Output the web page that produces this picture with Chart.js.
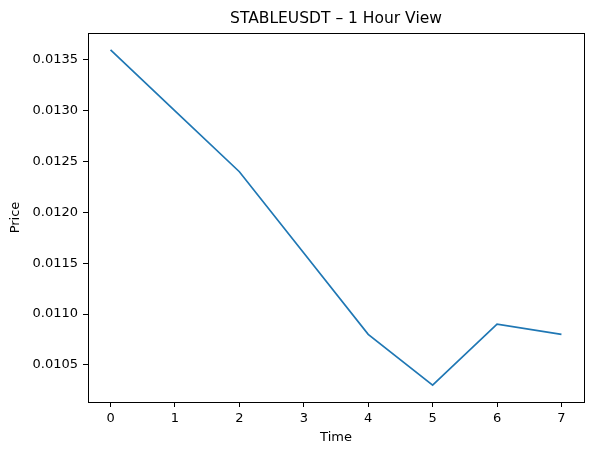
<!DOCTYPE html>
<html>
<head>
<meta charset="utf-8">
<script src="https://cdn.jsdelivr.net/npm/chart.js@4/dist/chart.umd.min.js"></script>
<style>
html,body{margin:0;padding:0;background:#fff;}
#wrap{width:593px;height:455px;}
</style>
</head>
<body>
<div id="wrap"><canvas id="c" width="593" height="455"></canvas></div>
<script>
const timeLabels = [0, 1, 2, 3, 4, 5, 6, 7];
const priceValues = [0.0136, 0.0130, 0.0124, 0.0116, 0.0108, 0.0103, 0.0109, 0.0108];
const yTickValues = [0.0105, 0.0110, 0.0115, 0.0120, 0.0125, 0.0130, 0.0135];
const xTickValues = [0, 1, 2, 3, 4, 5, 6, 7];
const chartTitle = 'STABLEUSDT – 1 Hour View';

const FONT = "'DejaVu Sans', sans-serif";

const framePlugin = {
  id: 'frame',
  afterDraw(chart) {
    const {ctx, chartArea: a} = chart;
    ctx.save();
    ctx.strokeStyle = '#000';
    ctx.lineWidth = 1;
    ctx.strokeRect(Math.round(a.left) + 0.5, Math.round(a.top) + 0.5, Math.round(a.right - a.left), Math.round(a.bottom - a.top));
    ctx.fillStyle = '#000';
    ctx.font = "15.5px " + FONT;
    ctx.textAlign = 'center';
    ctx.textBaseline = 'alphabetic';
    ctx.fillText(chartTitle, (a.left + a.right) / 2, 23);
    ctx.restore();
  }
};

new Chart(document.getElementById('c'), {
  type: 'line',
  data: {
    datasets: [{
      data: timeLabels.map((t, i) => ({x: t, y: priceValues[i]})),
      borderColor: '#1f77b4',
      borderWidth: 1.7,
      pointRadius: 0,
      tension: 0,
      fill: false
    }]
  },
  options: {
    responsive: false,
    animation: false,
    layout: {padding: {top: 33, right: 9, left: 0, bottom: 0}},
    plugins: {legend: {display: false}, title: {display: false}, tooltip: {enabled: false}},
    scales: {
      x: {
        type: 'linear',
        min: -0.35, max: 7.35,
        afterBuildTicks: s => { s.ticks = xTickValues.map(v => ({value: v})); },
        afterFit: s => { s.height = 53; },
        grid: {drawOnChartArea: false, drawTicks: true, tickLength: 5, color: '#000', tickWidth: 1},
        border: {display: false},
        ticks: {color: '#000', font: {family: FONT, size: 13}, padding: 4, maxRotation: 0, callback: v => String(v)},
        title: {display: true, text: 'Time', color: '#000', font: {family: FONT, size: 13}, padding: {top: 0, bottom: 10}}
      },
      y: {
        type: 'linear',
        min: 0.010135, max: 0.013765,
        afterBuildTicks: s => { s.ticks = yTickValues.map(v => ({value: v})); },
        afterFit: s => { s.width = 88; },
        grid: {drawOnChartArea: false, drawTicks: true, tickLength: 5, color: '#000', tickWidth: 1},
        border: {display: false},
        ticks: {color: '#000', font: {family: FONT, size: 13}, padding: 5, callback: v => v.toFixed(4)},
        title: {display: true, text: 'Price', color: '#000', font: {family: FONT, size: 13}, padding: {top: 8, bottom: 0}}
      }
    }
  },
  plugins: [framePlugin]
});
</script>
</body>
</html>
